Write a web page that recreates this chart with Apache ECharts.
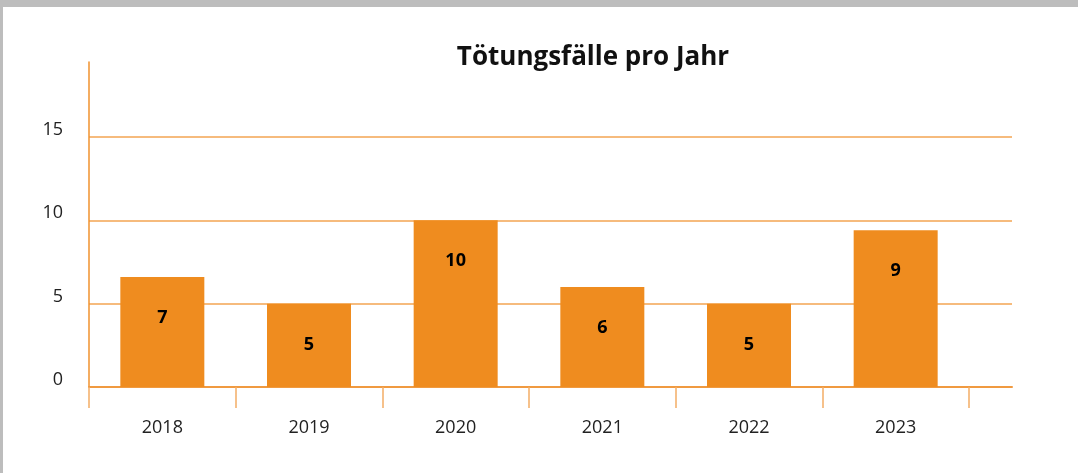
<!DOCTYPE html>
<html>
<head>
<meta charset="utf-8">
<script src="https://cdn.jsdelivr.net/npm/echarts@6/dist/echarts.min.js"></script>
<style>
    html, body { margin: 0; padding: 0; background: #bdbdbd; width: 1078px; height: 473px; overflow: hidden; }
    #chart { position: absolute; left: 3px; top: 7px; width: 1075px; height: 466px; background: #ffffff; }
</style>
</head>
<body>
<div id="chart"></div>
<script>
    // Daten
    var years = ['2018', '2019', '2020', '2021', '2022', '2023'];
    var faelle = [6.6, 5, 10, 6, 5, 9.4];
    var yTicks = [0, 5, 10, 15];

    var orange = '#ef8c1f';
    var lineColor = '#f3a452';
    var font = '"Open Sans", "Noto Sans", sans-serif';

    var chart = echarts.init(document.getElementById('chart'));
    chart.setOption({
        animation: false,
        title: {
            text: 'Tötungsfälle pro Jahr',
            left: 585,
            top: 33,
            textAlign: 'center',
            textStyle: {
                fontFamily: font,
                fontSize: 26,
                fontWeight: 'bold',
                color: '#111'
            }
        },
        grid: [
            // Balken + Kategorien
            { left: 86, right: 109, top: 55, bottom: 86 },
            // Hilfslinien, etwas breiter als die Kategorien
            { left: 86, right: 66, top: 55, bottom: 86 }
        ],
        xAxis: [
            {
                type: 'category',
                gridIndex: 0,
                data: years,
                boundaryGap: true,
                axisLine: { show: false },
                axisTick: {
                    show: true,
                    length: 21,
                    lineStyle: { color: '#f4ad66', width: 1.5 }
                },
                axisLabel: {
                    margin: 32,
                    fontFamily: font,
                    fontSize: 18,
                    color: '#222'
                }
            },
            {
                type: 'value',
                gridIndex: 1,
                min: 0,
                max: 1,
                axisLine: { show: true, lineStyle: { color: '#f09a40', width: 2 } },
                axisTick: { show: false },
                axisLabel: { show: false },
                splitLine: { show: false }
            }
        ],
        yAxis: [
            {
                type: 'value',
                gridIndex: 0,
                min: 0,
                max: 19.5,
                interval: 5,
                axisLine: { show: true, lineStyle: { color: '#f0922e', width: 1.5 } },
                axisTick: { show: false },
                splitLine: { show: false },
                axisLabel: {
                    margin: 26,
                    showMaxLabel: false,
                    fontFamily: font,
                    fontSize: 18,
                    color: '#222',
                    verticalAlign: 'bottom',
                    lineHeight: 14,
                    formatter: function (v) {
                        return yTicks.indexOf(v) >= 0 ? String(v) : '';
                    }
                }
            },
            {
                type: 'value',
                gridIndex: 1,
                min: 0,
                max: 19.5,
                interval: 5,
                axisLine: { show: false },
                axisTick: { show: false },
                axisLabel: { show: false },
                splitLine: {
                    show: true,
                    showMinLine: false,
                    showMaxLine: false,
                    lineStyle: { color: lineColor, width: 1.5 }
                }
            }
        ],
        series: [
            {
                name: 'Tötungsfälle',
                type: 'bar',
                xAxisIndex: 0,
                yAxisIndex: 0,
                data: faelle,
                barWidth: 84,
                itemStyle: { color: orange },
                z: 5,
                label: {
                    show: true,
                    position: 'insideTop',
                    distance: 32,
                    fontFamily: font,
                    fontSize: 18,
                    fontWeight: 'bold',
                    color: '#000',
                    formatter: function (p) {
                        return Math.round(p.value);
                    }
                }
            }
        ]
    });
</script>
</body>
</html>
